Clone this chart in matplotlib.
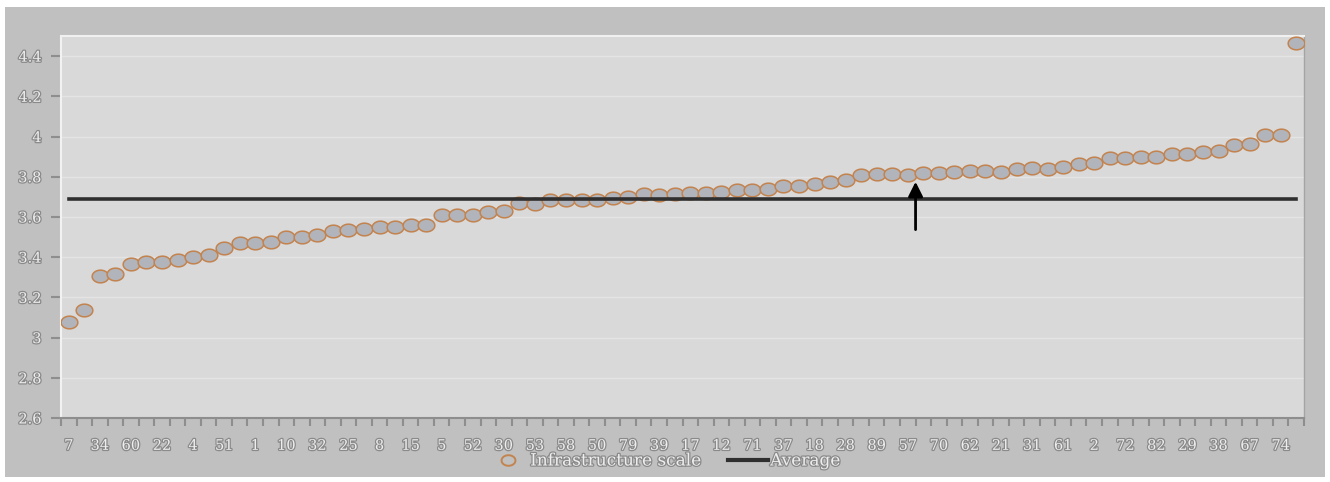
import matplotlib
matplotlib.use("Agg")
import matplotlib.pyplot as plt
import matplotlib.patheffects as pe
from matplotlib.path import Path
from matplotlib.lines import Line2D
import numpy as np

# every other category is labelled on the x axis
x_labels = ['7', '34', '60', '22', '4', '51', '1', '10', '32', '25',
            '8', '15', '5', '52', '30', '53', '58', '50', '79', '39',
            '17', '12', '71', '37', '18', '28', '89', '57', '70', '62',
            '21', '31', '61', '2', '72', '82', '29', '38', '67', '74']

scores = [3.078, 3.136, 3.305, 3.315, 3.366, 3.376, 3.378, 3.388, 3.400, 3.413,
          3.446, 3.468, 3.471, 3.474, 3.499, 3.502, 3.509, 3.530, 3.534, 3.539,
          3.550, 3.549, 3.558, 3.558, 3.610, 3.610, 3.612, 3.625, 3.630, 3.670,
          3.665, 3.686, 3.686, 3.686, 3.686, 3.694, 3.700, 3.712, 3.710, 3.716,
          3.720, 3.720, 3.726, 3.732, 3.736, 3.740, 3.752, 3.756, 3.762, 3.775,
          3.782, 3.807, 3.812, 3.812, 3.810, 3.818, 3.818, 3.823, 3.828, 3.828,
          3.826, 3.837, 3.843, 3.840, 3.848, 3.865, 3.868, 3.895, 3.894, 3.900,
          3.900, 3.911, 3.914, 3.923, 3.928, 3.960, 3.961, 4.009, 4.009, 4.466]

average = 3.687
y_ticks = [2.6, 2.8, 3.0, 3.2, 3.4, 3.6, 3.8, 4.0, 4.2, 4.4]
y_tick_labels = ['2.6', '2.8', '3', '3.2', '3.4', '3.6', '3.8', '4', '4.2', '4.4']

# arrow marking one entry
arrow_x = 54.5
arrow_from = 3.537
arrow_to = 3.775

outer_bg = '#c0c0c0'
plot_bg = '#d9d9d9'
emboss = [pe.withStroke(linewidth=1.8, foreground='#8a8a8a')]
font = dict(family='DejaVu Serif', size=10.5, color='#eeeeee')

# wide ellipse marker
t = np.linspace(0, 2 * np.pi, 60)
ellipse = Path(np.column_stack([np.cos(t), 0.76 * np.sin(t)]), closed=True)

fig = plt.figure(figsize=(13.3, 4.82), dpi=100)
fig.patch.set_facecolor('white')
fig.patches.append(plt.Rectangle((5 / 1330, 5 / 482), 1320 / 1330, 470 / 482,
                                 transform=fig.transFigure, facecolor=outer_bg,
                                 edgecolor='none', zorder=-10))

ax = fig.add_axes([61 / 1330, 1 - 418 / 482, 1243 / 1330, 382 / 482])
ax.set_facecolor(plot_bg)

x = np.arange(len(scores))
ax.plot(x, scores, linestyle='none', marker=ellipse, markersize=12,
        markerfacecolor='#b1b4ba', markeredgecolor='#c3834f', markeredgewidth=1.1,
        zorder=3)
ax.plot(x, [average] * len(x), color='#2f2f2f', linewidth=2.6, zorder=4,
        solid_capstyle='projecting')

ax.annotate('', xy=(arrow_x, arrow_to), xytext=(arrow_x, arrow_from),
            arrowprops=dict(arrowstyle='-|>', color='black', lw=2,
                            mutation_scale=22, shrinkA=0, shrinkB=0),
            zorder=5)

ax.set_xlim(-0.5, len(scores) - 0.5)
ax.set_ylim(2.6, 4.5)

ax.set_yticks(y_ticks)
ax.set_yticklabels(y_tick_labels)
ax.set_xticks(np.arange(0, len(scores), 2))
ax.set_xticklabels(x_labels)
ax.set_xticks(np.arange(-0.5, len(scores), 1), minor=True)
ax.tick_params(axis='x', which='major', length=0, pad=15)
ax.tick_params(axis='x', which='minor', length=6, width=1.5, color='#8e8e8e')
ax.tick_params(axis='y', length=7, width=1.5, color='#8e8e8e', pad=7)

for lab in ax.get_xticklabels() + ax.get_yticklabels():
    lab.set_fontfamily(font['family'])
    lab.set_fontsize(font['size'])
    lab.set_color(font['color'])
    lab.set_path_effects(emboss)

ax.grid(axis='y', color='#e4e4e4', linewidth=1)
ax.set_axisbelow(True)
ax.spines['right'].set_color('#a4a4a4')
ax.spines['right'].set_linewidth(1)
ax.spines['left'].set_color('#f2f2f2')
ax.spines['left'].set_linewidth(1.5)
ax.spines['top'].set_color('#f0f0f0')
ax.spines['top'].set_linewidth(1.5)
ax.spines['bottom'].set_color('#8e8e8e')
ax.spines['bottom'].set_linewidth(1.5)

handles = [Line2D([], [], linestyle='none', marker=ellipse, markersize=10,
                  markerfacecolor='none', markeredgecolor='#c3834f', markeredgewidth=1.4),
           Line2D([], [], color='#2f2f2f', linewidth=3)]
leg = fig.legend(handles, ['Infrastructure scale', 'Average'], loc='center',
                 bbox_to_anchor=(664 / 1330, 1 - 461 / 482), ncol=2, frameon=False,
                 handlelength=2.4, handletextpad=0.1, columnspacing=1.6,
                 prop=dict(family=font['family'], size=12.2))
for txt in leg.get_texts():
    txt.set_color(font['color'])
    txt.set_path_effects(emboss)

fig.savefig('out.png', dpi=100, facecolor=fig.get_facecolor())
